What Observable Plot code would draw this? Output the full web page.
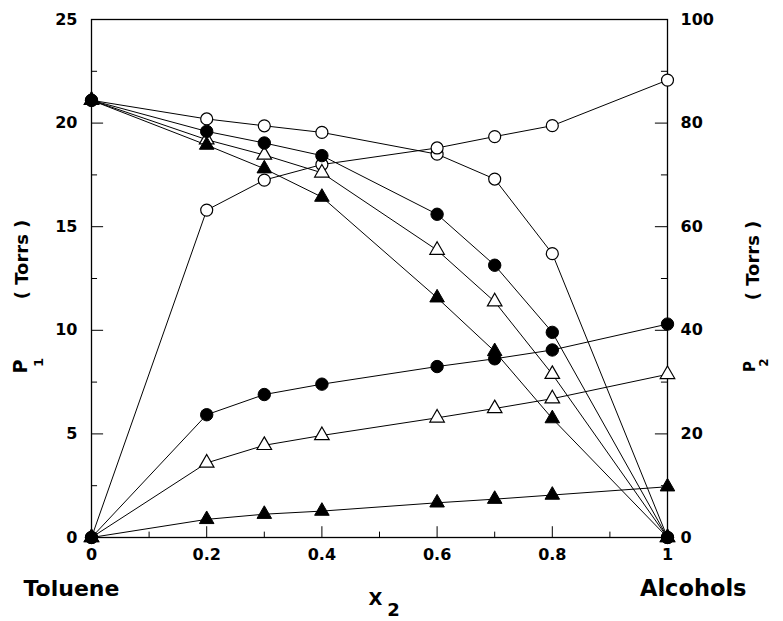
<!DOCTYPE html>
<html>
<head>
<meta charset="utf-8">
<script src="https://cdn.jsdelivr.net/npm/d3@7"></script>
<script src="https://cdn.jsdelivr.net/npm/@observablehq/plot@0.6"></script>
<style>
  html, body { margin: 0; padding: 0; background: #fff; }
  #chart svg { display: block; }
</style>
</head>
<body>
<div id="chart"></div>
<script>
// Mole fraction of alcohol, x2
const x2 = [0, 0.2, 0.3, 0.4, 0.6, 0.7, 0.8, 1];

// P1 (toluene partial pressure, left axis, Torrs)
const p1OpenCircle    = [21.1, 20.2, 19.87, 19.55, 18.5, 17.3, 13.7, 0];
const p1FilledCircle  = [21.1, 19.6, 19.04, 18.43, 15.6, 13.14, 9.9, 0];
const p1OpenTriangle  = [21.1, 19.2, 18.46, 17.6, 13.87, 11.38, 7.88, 0];
const p1FilledTriangle= [21.1, 18.94, 17.8, 16.43, 11.57, 8.98, 5.74, 0];

// P2 (alcohol partial pressure, right axis, Torrs)
const p2OpenCircle    = [0, 63.2, 69.0, 72.0, 75.2, 77.4, 79.5, 88.3];
const p2FilledCircle  = [0, 23.7, 27.6, 29.6, 33.0, 34.5, 36.2, 41.2];
const p2OpenTriangle  = [0, 14.4, 17.8, 19.7, 23.1, 24.9, 26.8, 31.5];
const p2FilledTriangle= [0, 3.5, 4.5, 5.1, 6.7, 7.4, 8.2, 9.8];

// Axis ticks
const leftTicks = [0, 5, 10, 15, 20, 25];
const leftMinor = [2.5, 7.5, 12.5, 17.5, 22.5];
const rightTickLabels = ["0", "20", "40", "60", "80", "100"];
const p2Max = 100, p1Max = 25;
const xTicks = [0, 0.2, 0.4, 0.6, 0.8, 1];
const xMinor = [0.1, 0.3, 0.5, 0.7, 0.9];
const xTickLabels = ["0", "0.2", "0.4", "0.6", "0.8", "1"];

// Build table (P2 mapped onto the left scale via the axis ratio)
const ratio = p2Max / p1Max;
const data = [];
function add(values, series, marker, factor) {
  values.forEach((v, i) => data.push({x: x2[i], y: v / factor, series, marker}));
}
add(p1OpenCircle, "P1-oc", "oc", 1);
add(p1OpenTriangle, "P1-ot", "ot", 1);
add(p1FilledTriangle, "P1-ft", "ft", 1);
add(p1FilledCircle, "P1-fc", "fc", 1);
add(p2OpenCircle, "P2-oc", "oc", ratio);
add(p2OpenTriangle, "P2-ot", "ot", ratio);
add(p2FilledTriangle, "P2-ft", "ft", ratio);
add(p2FilledCircle, "P2-fc", "fc", ratio);

const font = "DejaVu Sans, sans-serif";
const majX = 0.021, minX = 0.0105;   // tick lengths in x units (~12px / 6px)
const majY = 0.52, minY = 0.26;      // tick lengths in y units

const chart = Plot.plot({
  width: 783,
  height: 621,
  marginLeft: 91,
  marginRight: 116,
  marginTop: 19,
  marginBottom: 84,
  x: {domain: [0, 1]},
  y: {domain: [0, 25]},
  style: {fontFamily: font, fontWeight: "bold", fontSize: "16px", color: "black", background: "white"},
  marks: [
    Plot.frame({stroke: "black", strokeWidth: 1.3}),
    // inward ticks, left
    Plot.ruleY(leftTicks.slice(1, -1), {y: d => d, x1: 0, x2: majX, stroke: "black", strokeWidth: 1}),
    Plot.ruleY(leftMinor, {y: d => d, x1: 0, x2: minX, stroke: "black", strokeWidth: 1}),
    // inward ticks, right
    Plot.ruleY(leftTicks.slice(1, -1), {y: d => d, x1: 1 - majX, x2: 1, stroke: "black", strokeWidth: 1}),
    Plot.ruleY(leftMinor, {y: d => d, x1: 1 - minX, x2: 1, stroke: "black", strokeWidth: 1}),
    // inward ticks, bottom
    Plot.ruleX(xTicks.slice(1, -1), {x: d => d, y1: 0, y2: majY, stroke: "black", strokeWidth: 1}),
    Plot.ruleX(xMinor, {x: d => d, y1: 0, y2: minY, stroke: "black", strokeWidth: 1}),
    // axis labels
    Plot.axisY({anchor: "left", ticks: leftTicks, tickSize: 0, tickPadding: 14, tickFormat: d => String(d), fontSize: 16, fontWeight: "bold", label: null}),
    Plot.axisY({anchor: "right", ticks: leftTicks, tickSize: 0, tickPadding: 13, tickFormat: (d, i) => rightTickLabels[i], fontSize: 16, fontWeight: "bold", label: null}),
    Plot.axisX({anchor: "bottom", ticks: xTicks, tickSize: 0, tickPadding: 11, tickFormat: (d, i) => xTickLabels[i], fontSize: 16, fontWeight: "bold", label: null}),
    // curves
    Plot.line(data, {x: "x", y: "y", z: "series", stroke: "black", strokeWidth: 1}),
    Plot.dot(data, {filter: d => d.marker === "oc", x: "x", y: "y", r: 6, symbol: "circle", fill: "white", stroke: "black", strokeWidth: 1.2}),
    Plot.dot(data, {filter: d => d.marker === "ot", x: "x", y: "y", r: 5.4, symbol: "triangle", fill: "white", stroke: "black", strokeWidth: 1.2}),
    Plot.dot(data, {filter: d => d.marker === "ft", x: "x", y: "y", r: 5.4, symbol: "triangle", fill: "black", stroke: "black", strokeWidth: 1}),
    Plot.dot(data, {filter: d => d.marker === "fc", x: "x", y: "y", r: 6.2, symbol: "circle", fill: "black", stroke: "black", strokeWidth: 1}),
    // bottom labels
    Plot.text(["Toluene"], {frameAnchor: "bottom-left", dx: -68, dy: 51, textAnchor: "start", lineAnchor: "middle", fontSize: 22, fontWeight: "bold", text: d => d}),
    Plot.text(["Alcohols"], {frameAnchor: "bottom-right", dx: 79, dy: 51, textAnchor: "end", lineAnchor: "middle", fontSize: 22.5, fontWeight: "bold", text: d => d}),
    Plot.text(["X"], {frameAnchor: "bottom", dx: -4, dy: 62, textAnchor: "middle", lineAnchor: "middle", fontSize: 18, fontWeight: "bold", text: d => d}),
    Plot.text(["2"], {frameAnchor: "bottom", dx: 14, dy: 73, textAnchor: "middle", lineAnchor: "middle", fontSize: 18, fontWeight: "bold", text: d => d}),
    // left axis title
    Plot.text(["( Torrs )"], {frameAnchor: "left", dx: -69, dy: -19, rotate: -90, textAnchor: "middle", lineAnchor: "middle", fontSize: 18, fontWeight: "bold", text: d => d}),
    Plot.text(["P"], {frameAnchor: "left", dx: -71, dy: 88, rotate: -90, textAnchor: "middle", lineAnchor: "middle", fontSize: 19, fontWeight: "bold", text: d => d}),
    Plot.text(["1"], {frameAnchor: "left", dx: -53, dy: 84, rotate: -90, textAnchor: "middle", lineAnchor: "middle", fontSize: 13, fontWeight: "bold", text: d => d}),
    // right axis title
    Plot.text(["( Torrs )"], {frameAnchor: "right", dx: 86, dy: -18, rotate: -90, textAnchor: "middle", lineAnchor: "middle", fontSize: 18, fontWeight: "bold", text: d => d}),
    Plot.text(["P"], {frameAnchor: "right", dx: 83, dy: 88, rotate: -90, textAnchor: "middle", lineAnchor: "middle", fontSize: 15, fontWeight: "bold", text: d => d}),
    Plot.text(["2"], {frameAnchor: "right", dx: 97, dy: 84, rotate: -90, textAnchor: "middle", lineAnchor: "middle", fontSize: 12, fontWeight: "bold", text: d => d})
  ]
});

document.getElementById("chart").appendChild(chart);
</script>
</body>
</html>
